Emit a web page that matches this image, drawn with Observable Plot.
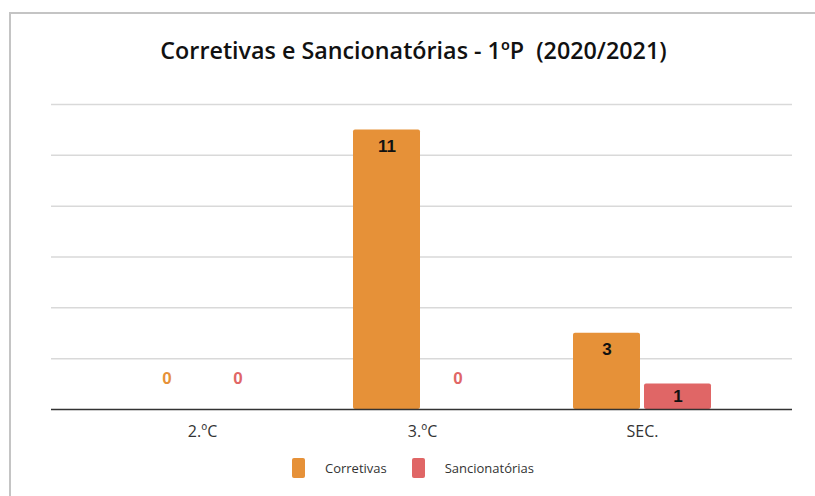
<!DOCTYPE html>
<html>
<head>
<meta charset="utf-8">
<script src="https://cdn.jsdelivr.net/npm/d3@7"></script>
<script src="https://cdn.jsdelivr.net/npm/@observablehq/plot@0.6"></script>
<style>
  html, body { margin: 0; padding: 0; background: #fff; }
  #wrap { position: relative; width: 815px; height: 496px; overflow: hidden; background: #fff; }
  #frame { position: absolute; left: 9px; top: 12px; width: 900px; height: 600px;
           border-top: 2px solid #c4c4c4; border-left: 2px solid #c4c4c4; box-sizing: border-box; }
  #title { position: absolute; left: 0; top: 36px; width: 827px; text-align: center;
           font-family: "Open Sans", sans-serif; font-weight: 600; font-size: 23.3px; line-height: 28px; color: #111; }
  #chart { position: absolute; left: 0; top: 80px; }
  #legend { position: absolute; left: 0; top: 458px; width: 826px; display: flex; justify-content: center;
            align-items: center; font-family: "Open Sans", sans-serif; font-size: 13px; color: #333; }
  .item { display: flex; align-items: center; }
  .item + .item { margin-left: 25px; }
  .sw { width: 13px; height: 20px; border-radius: 2px; margin-right: 20px; }
</style>
</head>
<body>
<div id="wrap">
  <div id="frame"></div>
  <div id="title"></div>
  <div id="chart"></div>
  <div id="legend"></div>
</div>
<script>
const titleText = "Corretivas e Sancionatórias - 1ºP\u00a0 (2020/2021)";
const categories = ["2.ºC", "3.ºC", "SEC."];
const seriesNames = ["Corretivas", "Sancionatórias"];
const corretivas = [0, 11, 3];
const sancionatorias = [0, 0, 1];
const seriesColors = ["#e69138", "#e06666"];
const yTicks = [0, 2, 4, 6, 8, 10, 12];

document.getElementById("title").textContent = titleText;

const rows = [];
categories.forEach((c, i) => {
  rows.push({cat: c, series: seriesNames[0], value: corretivas[i]});
  rows.push({cat: c, series: seriesNames[1], value: sancionatorias[i]});
});
const colorOf = s => seriesColors[seriesNames.indexOf(s)];

function seriesMarks(name, insL, insR, dx) {
  const d = rows.filter(r => r.series === name);
  return [
    Plot.barY(d.filter(r => r.value > 0), {x: "cat", y: "value", fill: colorOf(name),
      insetLeft: insL, insetRight: insR, rx: 2}),
    Plot.text(d.filter(r => r.value >= 2), {x: "cat", y: "value", text: r => String(r.value),
      dx, dy: 16.5, fill: "#111", fontWeight: "bold", fontSize: 17, fontFamily: "Liberation Sans, Arial, sans-serif"}),
    Plot.text(d.filter(r => r.value > 0 && r.value < 2), {x: "cat", y: r => r.value / 2, text: r => String(r.value),
      dx, fill: "#111", fontWeight: "bold", fontSize: 17, fontFamily: "Liberation Sans, Arial, sans-serif"}),
    Plot.text(d.filter(r => r.value === 0), {x: "cat", y: "value", text: r => String(r.value),
      dx, dy: -31, fill: colorOf(name), fontWeight: "bold", fontSize: 17, fontFamily: "Liberation Sans, Arial, sans-serif"})
  ];
}

const chart = Plot.plot({
  width: 815,
  height: 380,
  marginLeft: 51,
  marginRight: 23,
  marginTop: 24,
  marginBottom: 51,
  style: {fontFamily: "Open Sans, sans-serif", fontSize: "16px", color: "#333", background: "transparent", overflow: "visible"},
  x: {domain: categories, padding: 0, insetLeft: 40, insetRight: 40, tickSize: 0, tickPadding: 16, label: null},
  y: {domain: [0, 12], axis: null},
  marks: [
    Plot.ruleY(yTicks.filter(t => t > 0), {stroke: "#d9d9d9", strokeWidth: 1.5}),
    ...seriesMarks(seriesNames[0], 41, 112, -35.5),
    ...seriesMarks(seriesNames[1], 112, 41, 35.5),
    Plot.ruleY([0], {stroke: "#333", strokeWidth: 1.5})
  ]
});
document.getElementById("chart").appendChild(chart);

const legend = document.getElementById("legend");
seriesNames.forEach((s, i) => {
  const it = document.createElement("div");
  it.className = "item";
  const sw = document.createElement("div");
  sw.className = "sw";
  sw.style.background = seriesColors[i];
  const lb = document.createElement("span");
  lb.textContent = s;
  it.appendChild(sw); it.appendChild(lb);
  legend.appendChild(it);
});
</script>
</body>
</html>
